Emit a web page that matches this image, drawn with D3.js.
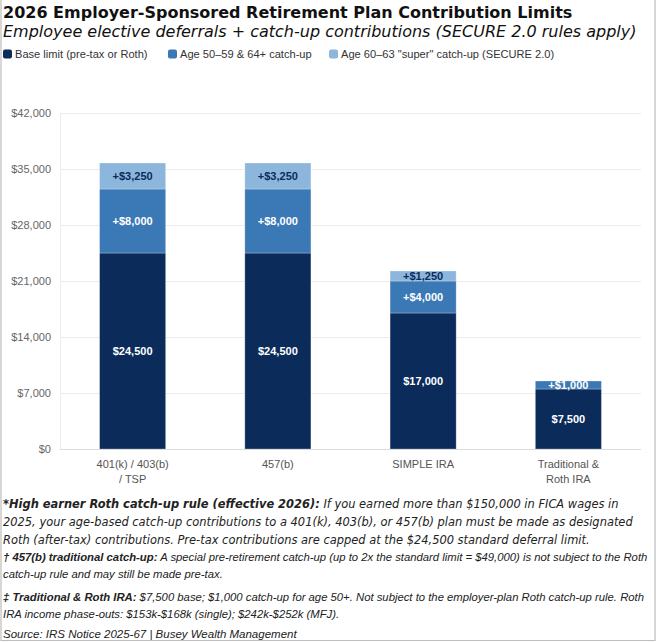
<!DOCTYPE html>
<html lang="en">
<head>
<meta charset="UTF-8">
<title>2026 Employer-Sponsored Retirement Plan Contribution Limits</title>
<script src="https://d3js.org/d3.v7.min.js"></script>
<style>
  body { margin: 0; background: #fff; }
  svg { display: block; }
</style>
</head>
<body>
<div id="chart"></div>
<script>
// chart values
const categories = ["401(k) / 403(b)|/ TSP", "457(b)", "SIMPLE IRA", "Traditional &|Roth IRA"];
const baseLimit = [24500, 24500, 17000, 7500];
const catchUp = [8000, 8000, 4000, 1000];
const superCatchUp = [3250, 3250, 1250, 0];
const yTicks = [0, 7000, 14000, 21000, 28000, 35000, 42000];
const seriesNames = ["Base limit (pre-tax or Roth)", "Age 50\u201359 & 64+ catch-up", "Age 60\u201363 \"super\" catch-up (SECURE 2.0)"];
const colors = ["#0b2c5a", "#3b78b6", "#8db6dc"];
const labelColors = ["#ffffff", "#ffffff", "#0b2c5a"];

const W = 659, H = 642;
const svg = d3.select("#chart").append("svg").attr("width", W).attr("height", H);

// frame
svg.append("path")
  .attr("d", `M1,0 V640.5 H655 V0`)
  .attr("fill", "none").attr("stroke", "#bdbdbd").attr("stroke-width", 1.2);

// title
svg.append("text").attr("x", 3).attr("y", 18)
  .style("font", "bold 16px 'DejaVu Sans', Verdana, sans-serif").attr("fill", "#111")
  .text("2026 Employer-Sponsored Retirement Plan Contribution Limits");
svg.append("text").attr("x", 3).attr("y", 37)
  .style("font", "italic 16px 'DejaVu Sans', Verdana, sans-serif").attr("fill", "#111")
  .text("Employee elective deferrals + catch-up contributions (SECURE 2.0 rules apply)");

// legend
const legendX = [3, 168, 329];
seriesNames.forEach((n, i) => {
  svg.append("rect").attr("x", legendX[i]).attr("y", 49.5).attr("width", 9).attr("height", 9)
    .attr("rx", 2).attr("fill", colors[i]);
  svg.append("text").attr("x", legendX[i] + 12).attr("y", 58)
    .style("font", "11.1px 'Liberation Sans', Arial, sans-serif").attr("fill", "#333")
    .text(n);
});

// plot
const margin = {left: 60, right: 641, top: 113, bottom: 449};
const data = categories.map((c, i) => ({cat: c, base: baseLimit[i], catch: catchUp[i], sup: superCatchUp[i]}));
const keys = ["base", "catch", "sup"];
const stacked = d3.stack().keys(keys)(data);

const x = d3.scaleBand().domain(categories).range([margin.left, margin.right])
  .paddingInner(0.545).paddingOuter(0.2725);
const y = d3.scaleLinear().domain([0, 42000]).range([margin.bottom, margin.top]);

// grid
svg.append("g").selectAll("line").data(yTicks.slice(1)).join("line")
  .attr("x1", margin.left).attr("x2", margin.right)
  .attr("y1", d => y(d) + 0.5).attr("y2", d => y(d) + 0.5)
  .attr("stroke", "#ececec");
svg.append("line").attr("x1", margin.left + 0.5).attr("x2", margin.left + 0.5)
  .attr("y1", margin.top).attr("y2", margin.bottom).attr("stroke", "#ececec");

const yAxis = svg.append("g").attr("transform", `translate(${margin.left},0)`)
  .call(d3.axisLeft(y).tickValues(yTicks).tickSize(0).tickPadding(9)
    .tickFormat(d => "$" + d3.format(",")(d)));
yAxis.select(".domain").remove();
yAxis.selectAll("text").style("font", "11px 'Liberation Sans', Arial, sans-serif").attr("fill", "#666");

// bars
const layer = svg.append("g").selectAll("g").data(stacked).join("g")
  .attr("fill", (d, i) => colors[i]);
layer.selectAll("rect").data(d => d.filter(s => s[1] > s[0])).join("rect")
  .attr("x", d => x(d.data.cat))
  .attr("width", x.bandwidth())
  .attr("y", d => y(d[1]))
  .attr("height", d => y(d[0]) - y(d[1]))
  .attr("stroke", "rgba(255,255,255,0.35)").attr("stroke-width", 0.8);

// baseline
svg.append("line").attr("x1", margin.left).attr("x2", margin.right)
  .attr("y1", margin.bottom + 0.5).attr("y2", margin.bottom + 0.5).attr("stroke", "#dcdcdc");

// segment labels
stacked.forEach((s, i) => {
  svg.append("g").selectAll("text").data(s.filter(d => d[1] > d[0])).join("text")
    .attr("x", d => x(d.data.cat) + x.bandwidth() / 2)
    .attr("y", d => (y(d[0]) + y(d[1])) / 2)
    .attr("dy", "0.36em")
    .attr("text-anchor", "middle")
    .style("font", "bold 11px 'Liberation Sans', Arial, sans-serif")
    .attr("fill", labelColors[i])
    .text(d => (i === 0 ? "$" : "+$") + d3.format(",")(d[1] - d[0]));
});

// x labels
svg.append("g").selectAll("text").data(categories).join("text")
  .attr("x", d => x(d) + x.bandwidth() / 2)
  .attr("y", 468)
  .attr("text-anchor", "middle")
  .style("font", "11px 'Liberation Sans', Arial, sans-serif").attr("fill", "#555")
  .each(function(d) {
    d.split("|").forEach((t, k) => {
      d3.select(this).append("tspan").attr("x", x(d) + x.bandwidth() / 2)
        .attr("dy", k === 0 ? 0 : 15).text(t);
    });
  });

// footnotes
function note(lines, yStart, lh, family, size) {
  const t = svg.append("text").attr("x", 3).attr("y", yStart)
    .style("font-family", family).style("font-size", size + "px").style("font-style", "italic")
    .attr("fill", "#222");
  lines.forEach((ln, k) => {
    const ts = t.append("tspan").attr("x", 3).attr("dy", k === 0 ? 0 : lh);
    ln.forEach(([txt, bold]) => {
      ts.append("tspan").style("font-weight", bold ? "bold" : "normal").text(txt);
    });
  });
}
const verdana = "'DejaVu Sans', Verdana, sans-serif";
const arial = "'Liberation Sans', Arial, sans-serif";
note([
  [["*High earner Roth catch-up rule (effective 2026):", true], [" If you earned more than $150,000 in FICA wages in", false]],
  [["2025, your age-based catch-up contributions to a 401(k), 403(b), or 457(b) plan must be made as designated", false]],
  [["Roth (after-tax) contributions. Pre-tax contributions are capped at the $24,500 standard deferral limit.", false]]
], 508, 18, verdana, 11.45);
note([
  [["\u2020 457(b) traditional catch-up:", true], [" A special pre-retirement catch-up (up to 2x the standard limit = $49,000) is not subject to the Roth", false]],
  [["catch-up rule and may still be made pre-tax.", false]]
], 561, 17, arial, 11.3);
note([
  [["\u2021 Traditional & Roth IRA:", true], [" $7,500 base; $1,000 catch-up for age 50+. Not subject to the employer-plan Roth catch-up rule. Roth", false]],
  [["IRA income phase-outs: $153k-$168k (single); $242k-$252k (MFJ).", false]]
], 601, 16.5, arial, 11.3);
note([
  [["Source: IRS Notice 2025-67 | Busey Wealth Management", false]]
], 638, 17, arial, 11.5);
</script>
</body>
</html>
